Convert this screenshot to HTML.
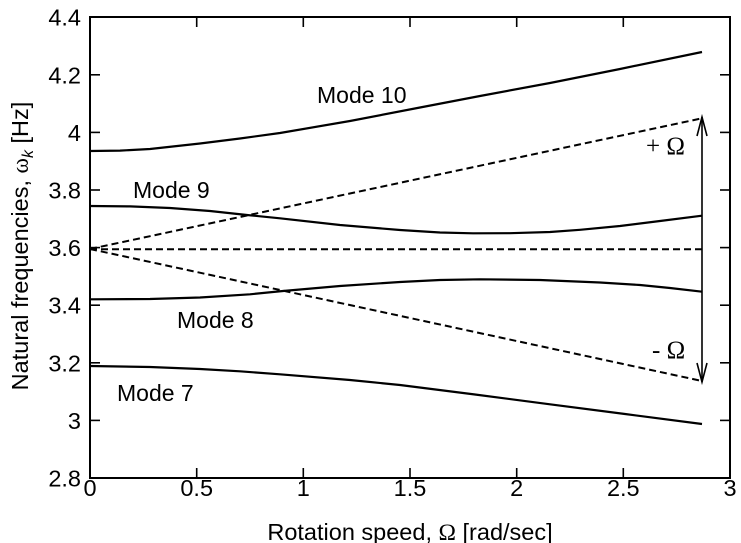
<!DOCTYPE html>
<html><head><meta charset="utf-8">
<style>
html,body{margin:0;padding:0;background:#fff;}
svg{display:block;}
text{font-family:"Liberation Sans",Arial,sans-serif;fill:#000;}
.serif{font-family:"Liberation Serif","DejaVu Serif",serif;}
</style></head>
<body>
<svg width="741" height="543" viewBox="0 0 741 543" xmlns="http://www.w3.org/2000/svg">
<rect width="741" height="543" fill="#fff"/>
<!-- frame -->
<rect x="90" y="17" width="640" height="461" fill="none" stroke="#000" stroke-width="2"/>
<!-- ticks -->
<g stroke="#000" stroke-width="1.6">
  <line x1="90" y1="420.4" x2="100" y2="420.4"/><line x1="730" y1="420.4" x2="720" y2="420.4"/>
  <line x1="90" y1="362.8" x2="100" y2="362.8"/><line x1="730" y1="362.8" x2="720" y2="362.8"/>
  <line x1="90" y1="305.2" x2="100" y2="305.2"/><line x1="730" y1="305.2" x2="720" y2="305.2"/>
  <line x1="90" y1="247.6" x2="100" y2="247.6"/><line x1="730" y1="247.6" x2="720" y2="247.6"/>
  <line x1="90" y1="190" x2="100" y2="190"/><line x1="730" y1="190" x2="720" y2="190"/>
  <line x1="90" y1="132.4" x2="100" y2="132.4"/><line x1="730" y1="132.4" x2="720" y2="132.4"/>
  <line x1="90" y1="74.8" x2="100" y2="74.8"/><line x1="730" y1="74.8" x2="720" y2="74.8"/>
  <line x1="196.7" y1="478" x2="196.7" y2="468"/><line x1="196.7" y1="17" x2="196.7" y2="27"/>
  <line x1="303.3" y1="478" x2="303.3" y2="468"/><line x1="303.3" y1="17" x2="303.3" y2="27"/>
  <line x1="410" y1="478" x2="410" y2="468"/><line x1="410" y1="17" x2="410" y2="27"/>
  <line x1="516.7" y1="478" x2="516.7" y2="468"/><line x1="516.7" y1="17" x2="516.7" y2="27"/>
  <line x1="623.3" y1="478" x2="623.3" y2="468"/><line x1="623.3" y1="17" x2="623.3" y2="27"/>
</g>
<!-- y tick labels -->
<g font-size="23.5" text-anchor="end">
  <text x="81" y="486.5">2.8</text>
  <text x="81" y="428.9">3</text>
  <text x="81" y="371.3">3.2</text>
  <text x="81" y="313.7">3.4</text>
  <text x="81" y="256.1">3.6</text>
  <text x="81" y="198.5">3.8</text>
  <text x="81" y="140.9">4</text>
  <text x="81" y="83.3">4.2</text>
  <text x="81" y="25.7">4.4</text>
</g>
<!-- x tick labels -->
<g font-size="23.5" text-anchor="middle">
  <text x="90" y="496">0</text>
  <text x="196.7" y="496">0.5</text>
  <text x="303.3" y="496">1</text>
  <text x="410" y="496">1.5</text>
  <text x="516.7" y="496">2</text>
  <text x="623.3" y="496">2.5</text>
  <text x="730" y="496">3</text>
</g>
<!-- axis labels -->
<text x="410" y="540" font-size="23.5" text-anchor="middle">Rotation speed, <tspan class="serif">Ω</tspan> [rad/sec]</text>
<text transform="translate(28,246) rotate(-90)" font-size="23.5" text-anchor="middle">Natural frequencies, <tspan class="serif">ω</tspan><tspan font-size="16" dy="5" font-style="italic">k</tspan><tspan dy="-5"> [Hz]</tspan></text>
<!-- dashed lines -->
<g stroke="#000" stroke-width="2" stroke-dasharray="7,4" fill="none">
  <line x1="90" y1="249" x2="702" y2="118.3"/>
  <line x1="90" y1="249.3" x2="702" y2="249.3"/>
  <line x1="90" y1="249" x2="702" y2="381"/>
</g>
<!-- mode curves -->
<g stroke="#000" stroke-width="2.2" fill="none" stroke-linejoin="round" stroke-linecap="butt">
  <polyline points="90,151 120,150.6 150,149 200,143.5 240,138.5 280,133 350,121 420,107.5 480,96 550,83 620,69 702,52"/>
  <polyline points="90,206 130,206.4 170,208 210,211 247,215 280,218.3 340,225 400,230 440,232.5 473,233.3 510,233.2 550,232 580,229.8 620,226 660,221 702,215.7"/>
  <polyline points="90,299.3 150,299 200,297.5 250,294.3 283,291 340,286 400,282 440,280 480,279.3 540,280 600,282.5 640,285 670,288 702,291.7"/>
  <polyline points="90,366 150,367 200,369 240,371.3 280,374.3 350,380 400,385 475,394.5 550,404.3 625,414 702,424"/>
</g>
<!-- double arrow -->
<g stroke="#000" stroke-width="1.6" fill="none">
  <line x1="702" y1="117" x2="702" y2="382"/>
  <polyline points="697,136 702,117 707,136"/>
  <polyline points="697,363 702,382 707,363"/>
</g>
<!-- labels -->
<g font-size="23">
  <text x="317" y="103">Mode 10</text>
  <text x="133" y="198">Mode 9</text>
  <text x="177" y="328">Mode 8</text>
  <text x="117" y="401">Mode 7</text>
</g>
<text x="646" y="154" font-size="25" class="serif">+ Ω</text>
<text x="652" y="358" font-size="25" class="serif">- Ω</text>
</svg>
</body></html>
